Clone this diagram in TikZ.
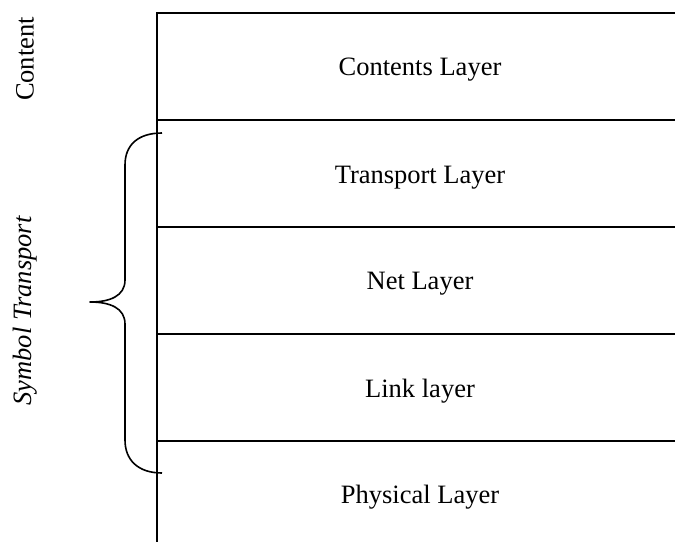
\documentclass[tikz,border=0pt]{standalone}
\usepackage{fontspec}
\setmainfont{Liberation Serif}
\begin{document}
\begin{tikzpicture}[x=1pt,y=-1pt,
  rule/.style={line width=2.2pt},
  layer/.style={font=\fontsize{26.5}{31}\selectfont, anchor=center},
  side/.style={font=\fontsize{26.5}{31}\selectfont, rotate=90, anchor=center},
  bracestyle/.style={line width=1.6pt, line join=round}]
\useasboundingbox (0,0) rectangle (675,542);
% frame lines
\coordinate (vt) at (157,12);
\coordinate (vb) at (157,542);
\draw[rule] (vt) -- (vb);
\coordinate (h1l) at (157,13);  \coordinate (h1r) at (675,13);
\coordinate (h2l) at (157,120); \coordinate (h2r) at (675,120);
\coordinate (h3l) at (157,227); \coordinate (h3r) at (675,227);
\coordinate (h4l) at (157,334); \coordinate (h4r) at (675,334);
\coordinate (h5l) at (157,441); \coordinate (h5r) at (675,441);
\draw[rule] (h1l) -- (h1r);
\draw[rule] (h2l) -- (h2r);
\draw[rule] (h3l) -- (h3r);
\draw[rule] (h4l) -- (h4r);
\draw[rule] (h5l) -- (h5r);
% layer labels
\node[layer] (contents) at (420,70) {Contents Layer};
\node[layer] (transport) at (420,178) {Transport Layer};
\node[layer] (net) at (420,284) {Net Layer};
\node[layer] (link) at (420,391) {Link layer};
\node[layer] (phys) at (420,497) {Physical Layer};
% side labels
\node[side] (content) at (25,59) {Content};
\node[side] (symbol) at (25,311) {\itshape Symbol Transport};
% brace
\coordinate (bt) at (162,133);
\coordinate (bb) at (162,473);
\coordinate (tip) at (90,302);
\draw[bracestyle] (bt) .. controls (138,133) and (125,145) .. (125,165)
  -- (125,280) .. controls (125,296) and (110,302) .. (tip)
  .. controls (110,302) and (125,308) .. (125,324)
  -- (125,440) .. controls (125,460) and (138,473) .. (bb);
\end{tikzpicture}
\end{document}
